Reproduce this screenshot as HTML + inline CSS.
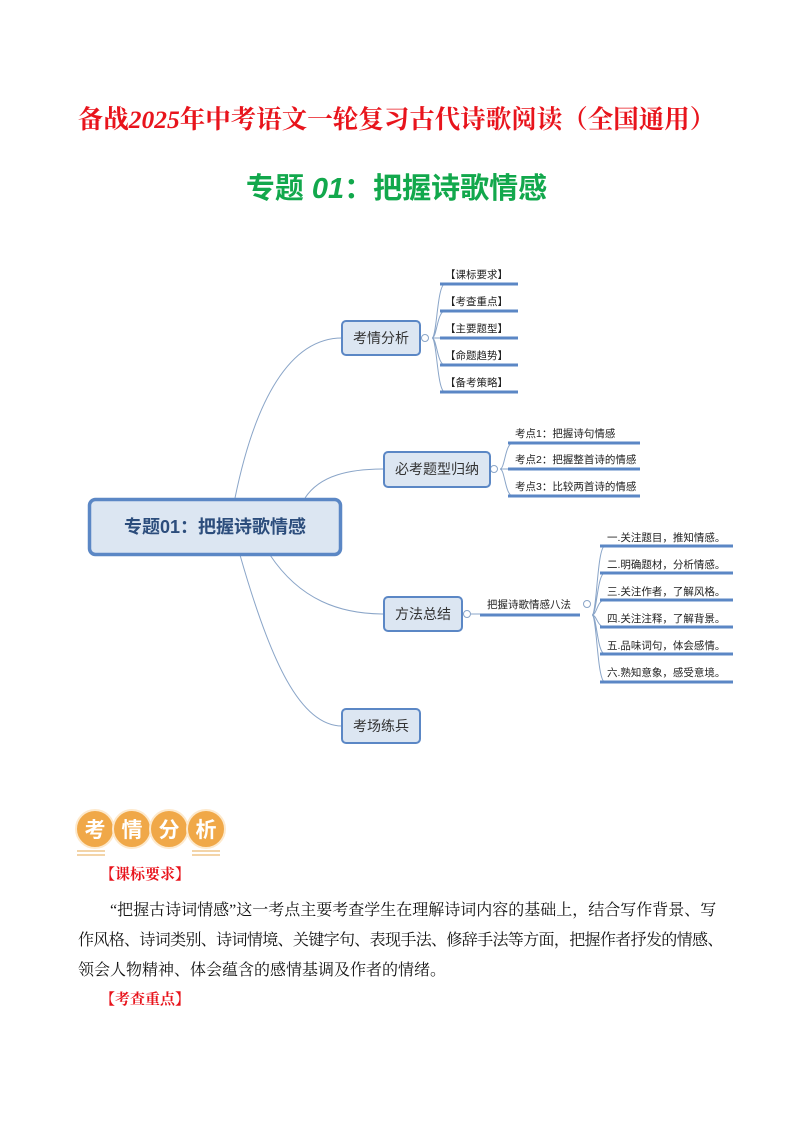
<!DOCTYPE html>
<html><head><meta charset="utf-8"><style>
body{margin:0;background:#fff;width:793px;height:1122px;position:relative;font-family:"Liberation Sans","Noto Sans CJK SC",sans-serif;overflow:hidden}
.t{position:absolute;white-space:nowrap}
.ln{position:absolute;left:78px;font-size:16px;color:#111;white-space:nowrap;font-family:'Liberation Serif','Noto Serif CJK SC',serif}
</style></head><body>
<div class="t" style="left:0;width:793px;text-align:center;top:100px;font-size:25.5px;font-weight:bold;color:#e8141c;font-family:'Liberation Serif','Noto Serif CJK SC',serif">备战<i>2025</i>年中考语文一轮复习古代诗歌阅读（全国通用）</div>
<div class="t" style="left:0;width:793px;text-align:center;top:165px;font-size:29px;font-weight:bold;color:#12a84c;font-family:'Liberation Sans','Noto Sans CJK SC',sans-serif">专题 <i>01</i>：把握诗歌情感</div>

<svg width="793" height="1122" style="position:absolute;left:0;top:0" font-family="Liberation Sans,Noto Sans CJK SC,sans-serif">
<g fill="none" stroke="#8aa5c8" stroke-width="1">
<path d="M235 498 C255 400 290 338 342 338"/>
<path d="M305 498 C320 475 350 469 384 469"/>
<path d="M270 555 C300 600 340 614 384 614"/>
<path d="M240 555 C270 660 300 726 342 726"/>
<path d="M432 338 C437 338 437 284 445 284 M432 338 C437 338 437 311 445 311 M432 338 L445 338 M432 338 C437 338 437 365 445 365 M432 338 C437 338 437 392 445 392"/>
<path d="M500 469 C505 469 505 443 513 443 M500 469 L513 469 M500 469 C505 469 505 496 513 496"/>
<path d="M592 615 C597 615 597 546 605 546 M592 615 C597 615 597 573 605 573 M592 615 C597 615 597 600 605 600 M592 615 C597 615 597 627 605 627 M592 615 C597 615 597 654 605 654 M592 615 C597 615 597 682 605 682"/>
<path d="M462 614 L480 614"/>
</g>
<g stroke="#5b87c5" stroke-width="3">
<line x1="440" y1="284" x2="518" y2="284"/><line x1="440" y1="311" x2="518" y2="311"/><line x1="440" y1="338" x2="518" y2="338"/><line x1="440" y1="365" x2="518" y2="365"/><line x1="440" y1="392" x2="518" y2="392"/>
<line x1="508" y1="443" x2="640" y2="443"/><line x1="508" y1="469" x2="640" y2="469"/><line x1="508" y1="496" x2="640" y2="496"/>
<line x1="480" y1="615" x2="580" y2="615"/>
<line x1="600" y1="546" x2="733" y2="546"/><line x1="600" y1="573" x2="733" y2="573"/><line x1="600" y1="600" x2="733" y2="600"/><line x1="600" y1="627" x2="733" y2="627"/><line x1="600" y1="654" x2="733" y2="654"/><line x1="600" y1="682" x2="733" y2="682"/>
</g>
<g fill="#fff" stroke="#8aa5c8"><circle cx="425" cy="338" r="3.5"/><circle cx="494" cy="469" r="3.5"/><circle cx="467" cy="614" r="3.5"/><circle cx="587" cy="604" r="3.5"/></g>
<g fill="#dce6f2" stroke="#5b87c5" stroke-width="2">
<rect x="342" y="321" width="78" height="34" rx="4"/>
<rect x="384" y="452" width="106" height="35" rx="4"/>
<rect x="384" y="597" width="78" height="34" rx="4"/>
<rect x="342" y="709" width="78" height="34" rx="4"/>
</g>
<rect x="89.5" y="499.5" width="251" height="55" rx="6" fill="#dce6f2" stroke="#5b87c5" stroke-width="3.5"/>
<g fill="#333" font-size="14">
<text x="381" y="343" text-anchor="middle">考情分析</text>
<text x="437" y="474" text-anchor="middle">必考题型归纳</text>
<text x="423" y="619" text-anchor="middle">方法总结</text>
<text x="381" y="731" text-anchor="middle">考场练兵</text>
</g>
<text x="215" y="533" text-anchor="middle" font-size="18" font-weight="bold" fill="#2c4d7c">专题01：把握诗歌情感</text>
<g fill="#222" font-size="10.5">
<text x="445" y="278">【课标要求】</text><text x="445" y="305">【考查重点】</text><text x="445" y="332">【主要题型】</text><text x="445" y="359">【命题趋势】</text><text x="445" y="386">【备考策略】</text>
<text x="515" y="437">考点1：把握诗句情感</text><text x="515" y="463">考点2：把握整首诗的情感</text><text x="515" y="490">考点3：比较两首诗的情感</text>
<text x="487" y="608">把握诗歌情感八法</text>
<text x="607" y="541">一.关注题目，推知情感。</text><text x="607" y="568">二.明确题材，分析情感。</text><text x="607" y="595">三.关注作者，了解风格。</text><text x="607" y="622">四.关注注释，了解背景。</text><text x="607" y="649">五.品味词句，体会感情。</text><text x="607" y="676">六.熟知意象，感受意境。</text>
</g>
<g fill="#f0a848" stroke="#fde9cc" stroke-width="2">
<circle cx="95" cy="829" r="19"/><circle cx="132" cy="829" r="19"/><circle cx="169" cy="829" r="19"/><circle cx="206" cy="829" r="19"/>
</g>
<g fill="#fff" font-size="21" font-weight="bold" text-anchor="middle"><text x="95" y="837">考</text><text x="132" y="837">情</text><text x="169" y="837">分</text><text x="206" y="837">析</text></g>
<g stroke="#f3d4a8" stroke-width="2"><line x1="77" y1="851" x2="105" y2="851"/><line x1="77" y1="855" x2="105" y2="855"/><line x1="192" y1="851" x2="220" y2="851"/><line x1="192" y1="855" x2="220" y2="855"/></g>
</svg>
<div class="t" style="left:100px;top:863px;font-size:15px;font-weight:bold;color:#e8141c;font-family:'Liberation Serif','Noto Serif CJK SC',serif">【课标要求】</div>
<div class="ln" style="top:897px;left:110px">“把握古诗词情感”这一考点主要考查学生在理解诗词内容的基础上，结合写作背景、写</div>
<div class="ln" style="top:927px;letter-spacing:-0.65px">作风格、诗词类别、诗词情境、关键字句、表现手法、修辞手法等方面，把握作者抒发的情感、</div>
<div class="ln" style="top:957px">领会人物精神、体会蕴含的感情基调及作者的情绪。</div>
<div class="t" style="left:100px;top:988px;font-size:15px;font-weight:bold;color:#e8141c;font-family:'Liberation Serif','Noto Serif CJK SC',serif">【考查重点】</div>
</body></html>
